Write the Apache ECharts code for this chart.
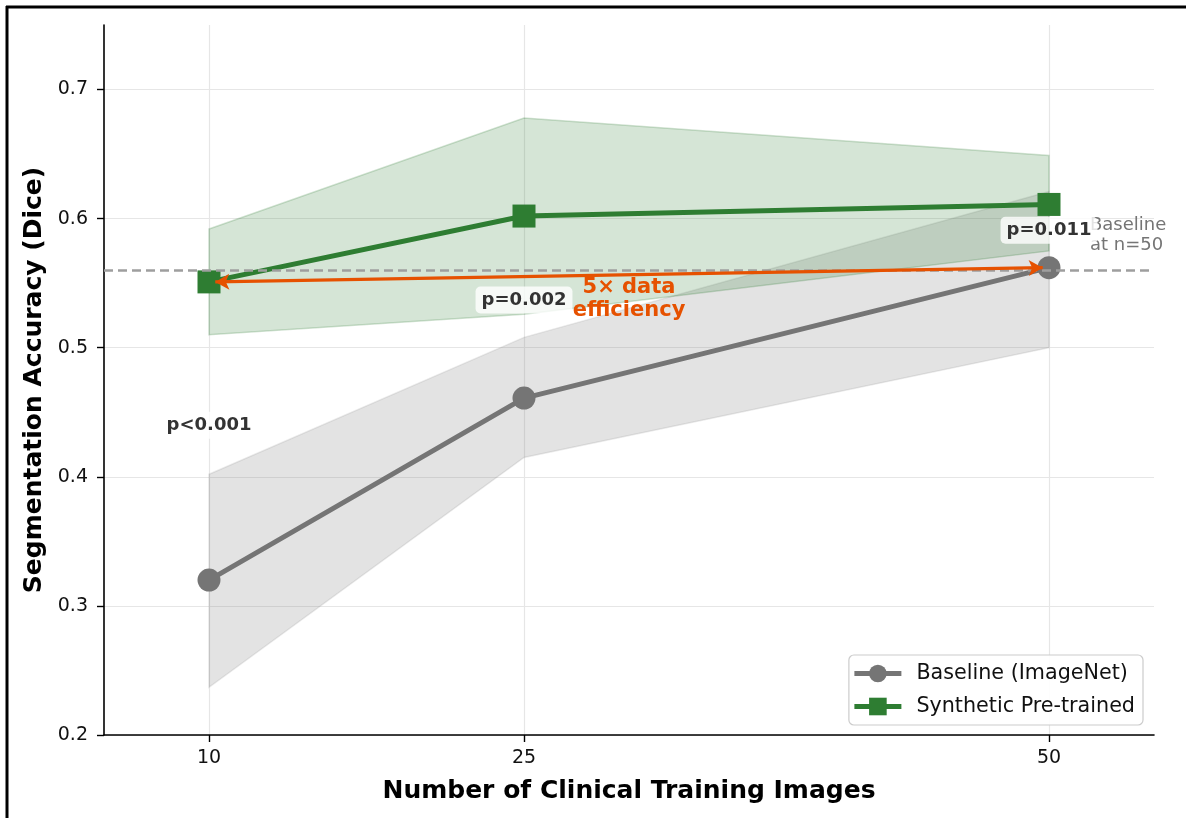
<!DOCTYPE html>
<html><head><meta charset="utf-8">
<script src="https://cdn.jsdelivr.net/npm/echarts@6/dist/echarts.min.js"></script>
<style>html,body{margin:0;padding:0;background:#fff}#c{width:1186px;height:818px}</style>
</head><body><div id="c"></div>
<script>
// ---- data ----
const trainingSizes = [10, 25, 50];
const xTickValues = [10, 25, 50];
const yTickValues = [0.2, 0.3, 0.4, 0.5, 0.6, 0.7];
const baselineMean = [0.320, 0.461, 0.562];
const baselineLow  = [0.237, 0.415, 0.500];
const baselineHigh = [0.402, 0.508, 0.621];
const synthMean = [0.551, 0.602, 0.611];
const synthLow  = [0.510, 0.526, 0.575];
const synthHigh = [0.592, 0.678, 0.649];
const baselineAt50 = 0.562;
const pLabels = ['p<0.001', 'p=0.002', 'p=0.011'];
const pLabelX = [10, 25, 50];
const pLabelY = [0.440, 0.537, 0.591];
const efficiencyText = '5× data\nefficiency';
const efficiencyPos = [30, 0.5375];
const refText = 'Baseline\nat n=50';
const refTextPos = [51.95, 0.587];
const arrowFrom = [10.3, 0.551];
const arrowTo = [49.7, 0.562];

const FONT = 'DejaVu Sans';
const GRAY = '#757575';
const GREEN = '#2e7d32';
const ORANGE = '#e65100';

function bandSeries(name, low, high, fill, stroke) {
  return {
    type: 'custom', name: name, silent: true, z: 1,
    data: [[trainingSizes[0], low[0]]],
    renderItem: function (params, api) {
      const pts = [];
      for (let i = 0; i < trainingSizes.length; i++) pts.push(api.coord([trainingSizes[i], high[i]]));
      for (let i = trainingSizes.length - 1; i >= 0; i--) pts.push(api.coord([trainingSizes[i], low[i]]));
      return { type: 'polygon', shape: { points: pts }, style: { fill: fill, stroke: stroke, lineWidth: 1.5 } };
    }
  };
}

function labelSeries(name, xs, ys, texts, style, z) {
  return {
    type: 'scatter', name: name, silent: true, z: z, symbolSize: 0,
    itemStyle: { opacity: 1 },
    data: texts.map((t, i) => ({ value: [xs[i], ys[i]], label: { formatter: t } })),
    label: Object.assign({ show: true, position: 'inside', fontFamily: FONT }, style)
  };
}

const chart = echarts.init(document.getElementById('c'), null, { renderer: 'canvas' });
chart.setOption({
  animation: false,
  backgroundColor: '#fff',
  grid: { left: 104, right: 32, top: 25, bottom: 83, containLabel: false },
  xAxis: {
    type: 'value', min: 5, max: 55,
    name: 'Number of Clinical Training Images', nameLocation: 'middle', nameGap: 44,
    nameTextStyle: { fontFamily: FONT, fontSize: 25, fontWeight: 'bold', color: '#000' },
    axisLine: { show: true, lineStyle: { color: '#000', width: 1.6 } },
    axisTick: { show: true, length: 7, lineStyle: { color: '#000', width: 1.4 }, customValues: xTickValues },
    axisLabel: { fontFamily: FONT, fontSize: 19, color: '#111', margin: 14, customValues: xTickValues },
    splitLine: { show: true, lineStyle: { color: '#e6e6e6', width: 1.2 } }
  },
  yAxis: {
    type: 'value', min: 0.2, max: 0.75,
    name: 'Segmentation Accuracy (Dice)', nameLocation: 'middle', nameGap: 57,
    nameTextStyle: { fontFamily: FONT, fontSize: 25, fontWeight: 'bold', color: '#000' },
    axisLine: { show: true, lineStyle: { color: '#000', width: 1.6 } },
    axisTick: { show: true, length: 7, lineStyle: { color: '#000', width: 1.4 }, customValues: yTickValues },
    axisLabel: { fontFamily: FONT, fontSize: 19, color: '#111', margin: 16, customValues: yTickValues,
                 formatter: v => v.toFixed(1) },
    splitLine: { show: true, lineStyle: { color: '#e6e6e6', width: 1.2 } }
  },
  legend: {
    data: ['Baseline (ImageNet)', 'Synthetic Pre-trained'],
    orient: 'vertical', right: 43, bottom: 93,
    backgroundColor: 'rgba(255,255,255,0.9)', borderColor: '#cccccc', borderWidth: 1.2, borderRadius: 5,
    padding: [8, 8, 8, 3], itemGap: 12, itemWidth: 47, itemHeight: 22,
    lineStyle: { width: 5 },
    textStyle: { fontFamily: FONT, fontSize: 20.7, color: '#111', padding: [0, 0, 0, 10] }
  },
  graphic: [
    { type: 'line', shape: { x1: 6, y1: 7, x2: 1186, y2: 7 }, style: { stroke: '#000', lineWidth: 3 }, z: 100 },
    { type: 'line', shape: { x1: 7, y1: 6, x2: 7, y2: 818 }, style: { stroke: '#000', lineWidth: 3 }, z: 100 }
  ],
  series: [
    bandSeries('baseline band', baselineLow, baselineHigh, 'rgba(117,117,117,0.2)', 'rgba(117,117,117,0.15)'),
    bandSeries('synthetic band', synthLow, synthHigh, 'rgba(46,125,50,0.2)', 'rgba(46,125,50,0.22)'),
    {
      type: 'line', name: 'Baseline (ImageNet)', z: 3,
      data: trainingSizes.map((x, i) => [x, baselineMean[i]]),
      symbol: 'circle', symbolSize: 23,
      lineStyle: { color: GRAY, width: 5 }, itemStyle: { color: GRAY },
      markLine: {
        silent: true, symbol: 'none', label: { show: false },
        lineStyle: { color: '#9e9e9e', width: 2.6, type: [9, 5] },
        data: [{ yAxis: baselineAt50 }]
      }
    },
    {
      type: 'line', name: 'Synthetic Pre-trained', z: 4,
      data: trainingSizes.map((x, i) => [x, synthMean[i]]),
      symbol: 'rect', symbolSize: 23,
      lineStyle: { color: GREEN, width: 5 }, itemStyle: { color: GREEN }
    },
    {
      type: 'line', name: 'arrow', z: 6, data: [],
      markLine: {
        silent: true, symbol: ['arrow', 'arrow'], symbolSize: [12, 14], label: { show: false },
        lineStyle: { color: ORANGE, width: 3.2, type: 'solid' },
        data: [[{ coord: arrowFrom }, { coord: arrowTo }]]
      }
    },
    labelSeries('eff', [efficiencyPos[0]], [efficiencyPos[1]], [efficiencyText],
      { color: ORANGE, fontSize: 21, fontWeight: 'bold', lineHeight: 23, align: 'center' }, 7),
    labelSeries('ref', [refTextPos[0]], [refTextPos[1]], [refText],
      { color: GRAY, fontSize: 18, lineHeight: 20, align: 'left' }, 7),
    labelSeries('pvals', pLabelX, pLabelY, pLabels,
      { color: '#333', fontSize: 18, fontWeight: 'bold', backgroundColor: 'rgba(255,255,255,0.8)',
        borderRadius: 5, padding: [5, 6, 4, 6] }, 8)
  ]
});
</script></body></html>
